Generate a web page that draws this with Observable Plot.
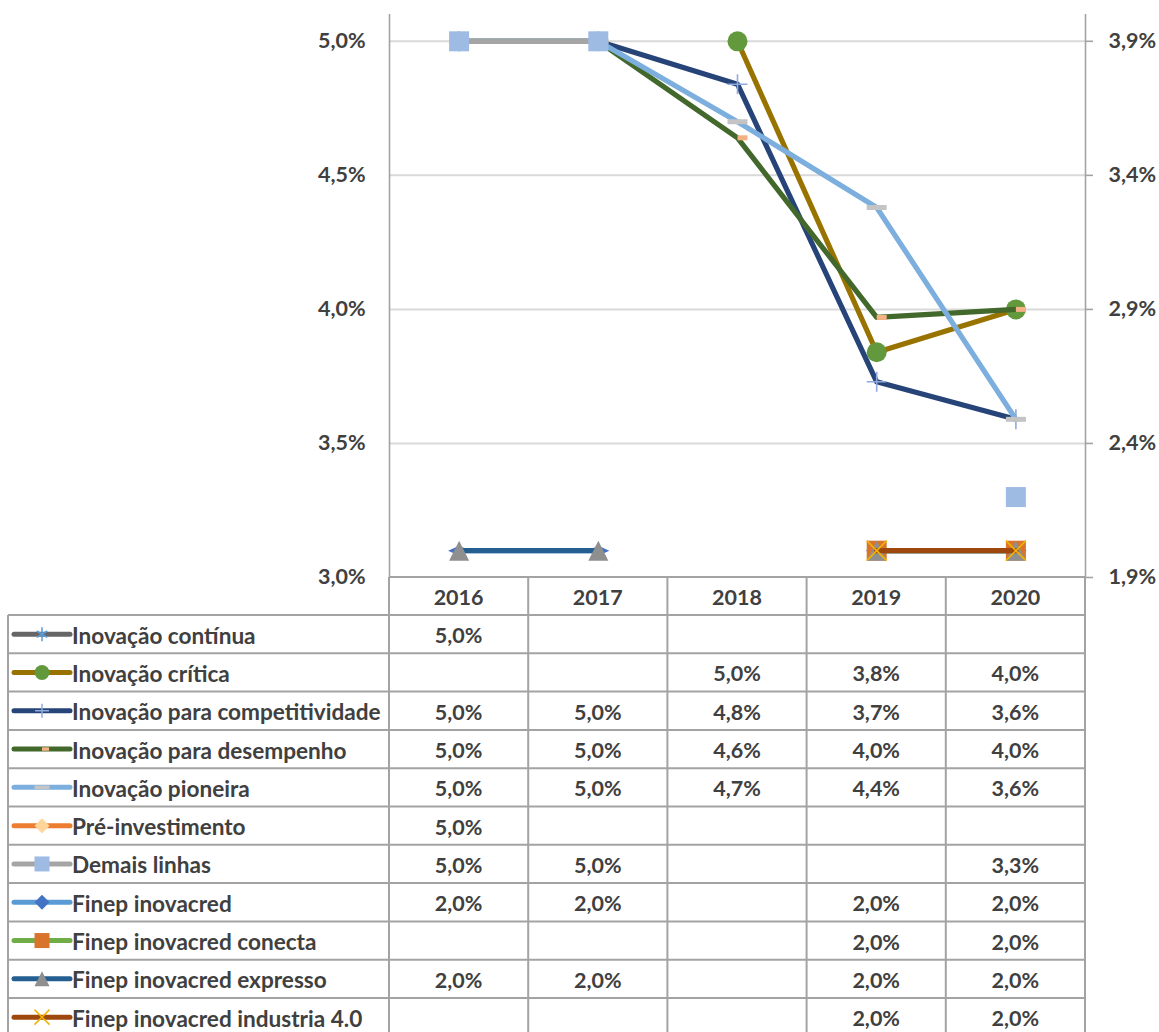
<!DOCTYPE html>
<html lang="pt-BR">
<head>
<meta charset="utf-8">
<title>Taxas de juros por linha de financiamento, 2016–2020</title>
<script src="https://cdn.jsdelivr.net/npm/d3@7"></script>
<script src="https://cdn.jsdelivr.net/npm/@observablehq/plot@0.6"></script>
<style>
  html, body { margin: 0; padding: 0; background: #fff; }
  #chart { position: relative; width: 1159px; height: 1032px; overflow: hidden; }
  #chart svg { position: absolute; left: 0; top: 0; }
</style>
</head>
<body>
<div id="chart"></div>
<script>
// Years on the category axis
const years = [2016, 2017, 2018, 2019, 2020];

// Credit lines, in drawing order
const seriesNames = [
  "Inovação contínua",
  "Inovação crítica",
  "Inovação para competitividade",
  "Inovação para desempenho",
  "Inovação pioneira",
  "Pré-investimento",
  "Demais linhas",
  "Finep inovacred",
  "Finep inovacred conecta",
  "Finep inovacred expresso",
  "Finep inovacred industria 4.0"
];

// Rates (% per year); null where the line had no rate that year
const inovacaoContinua        = [5.0, null, null, null, null];
const inovacaoCritica         = [null, null, 5.0, 3.84, 4.0];
const inovacaoCompetitividade = [5.0, 5.0, 4.84, 3.73, 3.59];
const inovacaoDesempenho      = [5.0, 5.0, 4.64, 3.97, 4.0];
const inovacaoPioneira        = [5.0, 5.0, 4.70, 4.38, 3.59];
const preInvestimento         = [5.0, null, null, null, null];
const demaisLinhas            = [5.0, 5.0, null, null, 3.3];
const finepInovacred          = [2.0, 2.0, null, 2.0, 2.0];
const finepConecta            = [null, null, null, 2.0, 2.0];
const finepExpresso           = [2.0, 2.0, null, 2.0, 2.0];
const finepIndustria40        = [null, null, null, 2.0, 2.0];

const seriesValues = [
  inovacaoContinua, inovacaoCritica, inovacaoCompetitividade, inovacaoDesempenho,
  inovacaoPioneira, preInvestimento, demaisLinhas, finepInovacred, finepConecta,
  finepExpresso, finepIndustria40
];

// Lines read against the right-hand (secondary) axis
const secondaryAxisSeries = [
  "Finep inovacred", "Finep inovacred conecta", "Finep inovacred expresso", "Finep inovacred industria 4.0"
];

// Value axes
const leftDomain = [3.0, 5.1];
const rightDomain = [1.9, 4.0];
const leftTicks = [3.0, 3.5, 4.0, 4.5, 5.0];
const rightTicks = [1.9, 2.4, 2.9, 3.4, 3.9];

// Look of each series
const lineColors   = ["#666666", "#997300", "#264478", "#43682b", "#7cafdd", "#ed7d31", "#a5a5a5", "#5b9bd5", "#70ad47", "#255e91", "#9e480e"];
const markerColors = ["#5b9bd5", "#63993d", "#8faadc", "#f4b183", "#c4c4c4", "#ffd599", "#9dbbe3", "#4472c4", "#d9742c", "#8f8f8f", "#f2b200"];
const markerShapes = ["asterisk", "circle", "plus", "halfDash", "dash", "diamond", "square", "flatDiamond", "square", "triangle", "times"];
const markerWidths = [20, 20, 20, 20, 20, 20, 20, 22, 20, 20, 20];
const keyShapes    = ["asterisk", "circle", "plus", "halfDash", "dash", "diamond", "square", "diamond", "square", "triangle", "times"];
const keyWidths    = [14, 15, 14, 14, 15, 15, 15, 15, 15, 15, 15];

const textColor = "#404040";
const gridColor = "#d9d9d9";
const lineGray = "#a3a3a3";
const font = "Lato, 'Open Sans', sans-serif";
const fontSize = 21.5;       // ticks, years and values
const labelFontSize = 22.6;  // series names in the table

// Marker shapes; sqrt(size) is the full width of the marker in pixels
const symbols = {
  circle: {draw(c, size) { const r = Math.sqrt(size) / 2; c.moveTo(r, 0); c.arc(0, 0, r, 0, 2 * Math.PI); }},
  square: {draw(c, size) { const s = Math.sqrt(size); c.rect(-s / 2, -s / 2, s, s); }},
  diamond: {draw(c, size) { const h = Math.sqrt(size) / 2; c.moveTo(-h, 0); c.lineTo(0, -h); c.lineTo(h, 0); c.lineTo(0, h); c.closePath(); }},
  flatDiamond: {draw(c, size) { const h = Math.sqrt(size) / 2; c.moveTo(-h, 0); c.lineTo(0, -h * 0.45); c.lineTo(h, 0); c.lineTo(0, h * 0.45); c.closePath(); }},
  triangle: {draw(c, size) { const h = Math.sqrt(size) / 2; c.moveTo(0, -h); c.lineTo(h, h); c.lineTo(-h, h); c.closePath(); }},
  dash: {draw(c, size) { const s = Math.sqrt(size); c.rect(-s / 2, -s / 8, s, s / 4); }},
  halfDash: {draw(c, size) { const s = Math.sqrt(size); c.rect(0, -s / 8, s / 2, s / 4); }},
  plus: {draw(c, size) { const h = Math.sqrt(size) / 2; c.moveTo(-h, 0); c.lineTo(h, 0); c.moveTo(0, -h); c.lineTo(0, h); }},
  times: {draw(c, size) { const h = Math.sqrt(size) / 2; c.moveTo(-h, -h); c.lineTo(h, h); c.moveTo(h, -h); c.lineTo(-h, h); }},
  asterisk: {draw(c, size) {
    const h = Math.sqrt(size) / 2, d = h * 0.75;
    c.moveTo(0, -h); c.lineTo(0, h);
    c.moveTo(-d, -d * 0.6); c.lineTo(d, d * 0.6);
    c.moveTo(d, -d * 0.6); c.lineTo(-d, d * 0.6);
  }}
};
const strokedShapes = ["plus", "times", "asterisk"];

const fmt = d3.formatLocale({decimal: ",", thousands: ".", grouping: [3], currency: ["R$", ""]}).format(".1f");
const pct = v => fmt(v) + "%";

// Secondary-axis values placed on the primary axis' positions
const secondaryToPrimary = d3.scaleLinear(rightDomain, leftDomain);
const isSecondary = name => secondaryAxisSeries.includes(name);

const rows = seriesNames.flatMap((name, s) => years.map((year, i) => {
  const value = seriesValues[s][i];
  return {
    name, s, year, value,
    pos: value == null ? NaN : (isSecondary(name) ? secondaryToPrimary(value) : value)
  };
}));

const seriesMarks = seriesNames.flatMap((name, s) => {
  const data = rows.filter(d => d.s === s);
  const stroked = strokedShapes.includes(markerShapes[s]);
  return [
    Plot.line(data, {
      x: "year", y: "pos", stroke: lineColors[s], strokeWidth: 5.2,
      strokeLinecap: "round", strokeLinejoin: "round"
    }),
    Plot.dot(data.filter(d => !isNaN(d.pos)), {
      x: "year", y: "pos",
      symbol: symbols[markerShapes[s]],
      r: markerWidths[s] / Math.sqrt(Math.PI),
      fill: stroked ? "none" : markerColors[s],
      stroke: stroked ? markerColors[s] : "none",
      strokeWidth: 1.6
    })
  ];
});

const xDomain = [years[0] - 0.5, years[years.length - 1] + 0.5];

const chart = Plot.plot({
  width: 1159,
  height: 578,
  marginTop: 14,
  marginRight: 74,
  marginBottom: 1,
  marginLeft: 389,
  x: {domain: xDomain, axis: null},
  y: {domain: leftDomain, axis: null},
  style: {background: "transparent", overflow: "visible"},
  marks: [
    // horizontal gridlines
    Plot.ruleY(leftTicks.slice(1), {stroke: gridColor, strokeWidth: 2}),
    // left and right value axes
    Plot.ruleX(xDomain, {stroke: lineGray, strokeWidth: 1.6}),
    Plot.ruleY(rightTicks, {y: d => secondaryToPrimary(d), x1: xDomain[1], x2: xDomain[1], insetRight: -8, stroke: lineGray, strokeWidth: 1.6}),
    Plot.text(leftTicks, {
      x: xDomain[0], y: d => d, text: pct, textAnchor: "end", dx: -24,
      fill: textColor, fontFamily: font, fontSize, fontWeight: 700
    }),
    Plot.text(rightTicks, {
      x: xDomain[1], y: d => secondaryToPrimary(d), text: pct, textAnchor: "start", dx: 23,
      fill: textColor, fontFamily: font, fontSize, fontWeight: 700
    }),
    ...seriesMarks
  ]
});
document.getElementById("chart").append(chart);

// Data table below the category axis, aligned with the chart's x scale
const xs = chart.scale("x");
const ys = chart.scale("y");
const X = v => xs.apply(v);
const axisBottom = ys.apply(leftDomain[0]);
const headerH = 38, rowH = 38.3;
const tableLeft = 8, keyX0 = 14, keyX1 = 70, keyMid = 42, labelX = 72;
const tableRight = X(xDomain[1]);
const rowTop = i => axisBottom + headerH + i * rowH;
const tableBottom = rowTop(seriesNames.length);

const tbl = d3.select("#chart").append("svg")
  .attr("width", 1159).attr("height", 1032)
  .attr("font-family", font).attr("font-size", fontSize).attr("font-weight", 700)
  .attr("fill", textColor);

const grid = tbl.append("g").attr("stroke", lineGray).attr("stroke-width", 2);
grid.append("line").attr("x1", X(xDomain[0])).attr("x2", tableRight).attr("y1", axisBottom).attr("y2", axisBottom);
for (let k = 0; k <= seriesNames.length; k++) {
  grid.append("line").attr("x1", tableLeft).attr("x2", tableRight).attr("y1", rowTop(k)).attr("y2", rowTop(k));
}
grid.append("line").attr("x1", tableLeft).attr("x2", tableLeft).attr("y1", rowTop(0)).attr("y2", tableBottom);
for (let j = 0; j <= years.length; j++) {
  const x = X(xDomain[0] + j);
  grid.append("line").attr("x1", x).attr("x2", x).attr("y1", axisBottom).attr("y2", tableBottom);
}

// header: years
tbl.append("g").selectAll("text").data(years).join("text")
  .attr("x", d => X(d)).attr("y", axisBottom + headerH / 2 + 1)
  .attr("text-anchor", "middle").attr("dominant-baseline", "central")
  .text(d => d);

// one row per series: key, name and values
seriesNames.forEach((name, s) => {
  const cy = rowTop(s) + rowH / 2 + 1;
  const g = tbl.append("g");
  g.append("line")
    .attr("x1", keyX0).attr("x2", keyX1).attr("y1", cy - 1).attr("y2", cy - 1)
    .attr("stroke", lineColors[s]).attr("stroke-width", 5).attr("stroke-linecap", "round");
  const stroked = strokedShapes.includes(keyShapes[s]);
  g.append("path")
    .attr("transform", `translate(${keyMid},${cy - 1})`)
    .attr("d", d3.symbol(symbols[keyShapes[s]], keyWidths[s] * keyWidths[s])())
    .attr("fill", stroked ? "none" : markerColors[s])
    .attr("stroke", stroked ? markerColors[s] : "none")
    .attr("stroke-width", 1.5);
  g.append("text")
    .attr("x", labelX).attr("y", cy).attr("dominant-baseline", "central")
    .attr("font-size", labelFontSize)
    .text(name);
  g.selectAll("text.v").data(rows.filter(d => d.s === s && d.value != null)).join("text")
    .attr("class", "v")
    .attr("x", d => X(d.year)).attr("y", cy)
    .attr("text-anchor", "middle").attr("dominant-baseline", "central")
    .text(d => pct(d.value));
});
</script>
</body>
</html>
